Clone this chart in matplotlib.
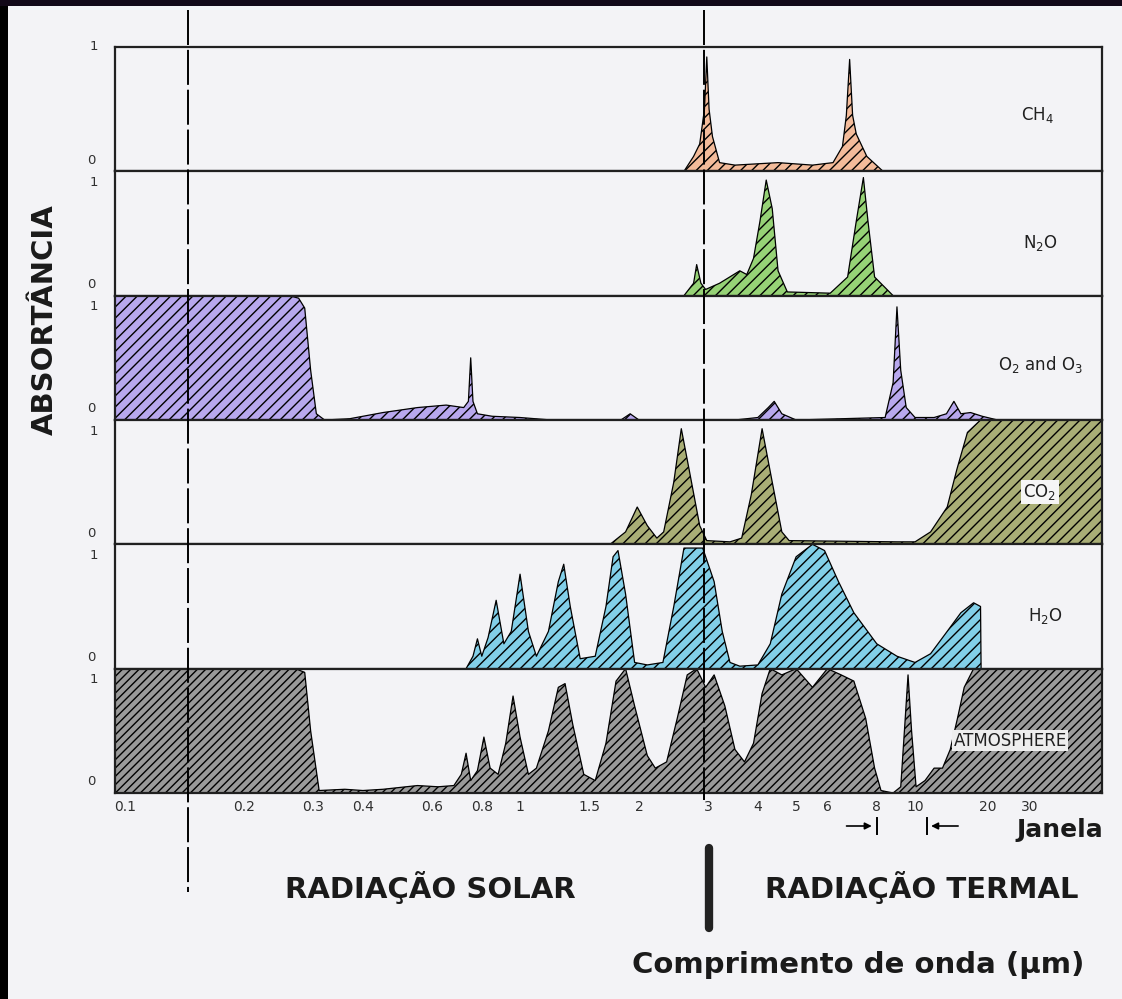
import numpy as np
import matplotlib
matplotlib.use("Agg")
import matplotlib.pyplot as plt
from matplotlib.lines import Line2D
from matplotlib.patches import Rectangle
import matplotlib.transforms as mtransforms

plt.rcParams['font.family'] = ['DejaVu Sans']
plt.rcParams['hatch.linewidth'] = 1.0

# ---------------- data (wavelength in micrometres, absorptance 0..1) -------------
ch4_lam = [2.6, 2.75, 2.85, 2.93, 2.97, 3.01, 3.07, 3.2, 3.5, 4.5, 5.5, 6.2, 6.55, 6.7, 6.83, 6.95, 7.1, 7.55, 8.3]
ch4_val = [0, 0.12, 0.22, 0.5, 0.92, 0.5, 0.28, 0.07, 0.05, 0.07, 0.05, 0.07, 0.2, 0.45, 0.9, 0.45, 0.3, 0.12, 0]

n2o_lam = [2.6, 2.75, 2.8, 2.87, 2.95, 3.2, 3.6, 3.75, 3.9, 4.05, 4.2, 4.35, 4.5, 4.75, 6.1, 6.75, 7.1, 7.4, 7.6, 7.9, 8.8]
n2o_val = [0, 0.1, 0.25, 0.1, 0.05, 0.1, 0.2, 0.17, 0.3, 0.6, 0.93, 0.7, 0.2, 0.03, 0.02, 0.15, 0.6, 0.95, 0.6, 0.15, 0]

o3_lam = [0.094, 0.26, 0.275, 0.285, 0.295, 0.305, 0.32, 0.37, 0.45, 0.55, 0.65, 0.72, 0.74, 0.75, 0.76, 0.78, 0.85, 1.0, 1.2,
          1.8, 1.9, 2.0, 3.5, 4.0, 4.25, 4.4, 4.6, 5.0, 8.4, 8.8, 9.0, 9.2, 9.5, 10.0, 12, 13.5, 14.5, 15.5, 17, 19, 22]
o3_val = [1, 1, 0.98, 0.9, 0.4, 0.05, 0.0, 0.01, 0.06, 0.1, 0.12, 0.1, 0.15, 0.5, 0.15, 0.05, 0.03, 0.02, 0.0,
          0.0, 0.05, 0.0, 0.0, 0.02, 0.1, 0.15, 0.05, 0.0, 0.02, 0.3, 0.91, 0.4, 0.1, 0.02, 0.02, 0.05, 0.15, 0.05, 0.06, 0.03, 0]

co2_lam = [1.69, 1.85, 1.98, 2.1, 2.22, 2.31, 2.45, 2.56, 2.68, 2.85, 2.97, 3.4, 3.64, 3.85, 4.1, 4.35, 4.6, 4.8, 9.0, 10.0,
           11.6, 13.6, 14.9, 16.5, 18.7, 60]
co2_val = [0, 0.1, 0.3, 0.15, 0.05, 0.1, 0.5, 0.93, 0.6, 0.15, 0.03, 0.02, 0.05, 0.4, 0.93, 0.5, 0.1, 0.03, 0.02, 0.02,
           0.1, 0.3, 0.6, 0.9, 1.0, 1.0]

h2o_lam = [0.73, 0.76, 0.78, 0.8, 0.83, 0.87, 0.91, 0.95, 1.0, 1.05, 1.1, 1.18, 1.25, 1.29, 1.34, 1.42, 1.55, 1.65, 1.72,
           1.77, 1.85, 1.95, 2.1, 2.3, 2.45, 2.6, 2.9, 3.1, 3.25, 3.4, 3.6, 4.0, 4.3, 4.6, 5.0, 5.5, 5.9, 6.4, 7.0, 8.0, 9.0,
           10.0, 11.6, 13.6, 15.5, 17.5, 18.7, 18.8]
h2o_val = [0, 0.1, 0.24, 0.1, 0.25, 0.55, 0.2, 0.3, 0.76, 0.3, 0.1, 0.3, 0.7, 0.84, 0.5, 0.08, 0.1, 0.5, 0.9,
           0.95, 0.6, 0.05, 0.03, 0.05, 0.5, 0.97, 0.97, 0.7, 0.3, 0.05, 0.02, 0.03, 0.2, 0.6, 0.9, 1.0, 0.95, 0.7, 0.45, 0.2, 0.1,
           0.05, 0.12, 0.3, 0.45, 0.53, 0.5, 0]

atm_lam = [0.094, 0.27, 0.285, 0.295, 0.31, 0.36, 0.4, 0.45, 0.55, 0.62, 0.68, 0.71, 0.73, 0.75, 0.78, 0.81, 0.84, 0.88,
           0.92, 0.96, 1.0, 1.05, 1.1, 1.18, 1.25, 1.3, 1.36, 1.45, 1.55, 1.65, 1.75, 1.85, 1.95, 2.1, 2.2, 2.35, 2.5,
           2.65, 2.8, 2.95, 3.1, 3.3, 3.5, 3.7, 3.9, 4.1, 4.3, 4.6, 5.0, 5.5, 6.0, 6.5, 7.0, 7.5, 7.9, 8.2, 8.8, 9.2,
           9.4, 9.6, 9.8, 10.1, 11.0, 12.0, 13.0, 14.0, 15.0, 16.0, 17.5, 60]
atm_val = [1, 1, 0.97, 0.5, 0.02, 0.03, 0.02, 0.03, 0.06, 0.05, 0.06, 0.15, 0.32, 0.1, 0.18, 0.45, 0.2, 0.15,
           0.4, 0.78, 0.45, 0.15, 0.2, 0.5, 0.85, 0.88, 0.55, 0.15, 0.1, 0.4, 0.9, 1.0, 0.7, 0.3, 0.2, 0.25, 0.6,
           0.95, 1.0, 0.85, 0.95, 0.7, 0.35, 0.25, 0.4, 0.8, 1.0, 0.95, 1.0, 0.85, 1.0, 0.95, 0.9, 0.6, 0.2, 0.02, 0.0, 0.05,
           0.5, 0.95, 0.5, 0.05, 0.1, 0.2, 0.2, 0.35, 0.6, 0.85, 1.0, 1.0]

panel_names = ['CH$_4$', 'N$_2$O', 'O$_2$ and O$_3$', 'CO$_2$', 'H$_2$O', 'ATMOSPHERE']
panel_colors = ['#f3bb9a', '#96d276', '#b8a8ee', '#a9ae76', '#82cfe8', '#9a9a9a']
panel_lams = [ch4_lam, n2o_lam, o3_lam, co2_lam, h2o_lam, atm_lam]
panel_vals = [ch4_val, n2o_val, o3_val, co2_val, h2o_val, atm_val]

tick_vals = [0.1, 0.2, 0.3, 0.4, 0.6, 0.8, 1, 1.5, 2, 3, 4, 5, 6, 8, 10, 20, 30]
tick_labels = ['0.1', '0.2', '0.3', '0.4', '0.6', '0.8', '1', '1.5', '2', '3', '4', '5', '6', '8', '10', '20', '30']

# ---------------- x scale: log, compressed beyond 10 um -------------------------
K = 0.61
def fwd(x):
    x = np.clip(np.asarray(x, dtype=float), 1e-6, None)
    u = np.log10(x)
    return np.where(u <= 1, u, 1 + K * (u - 1))

def inv(u):
    u = np.asarray(u, dtype=float)
    return np.where(u <= 1, 10 ** u, 10 ** (1 + (u - 1) / K))

BG = '#f3f3f6'
fig = plt.figure(figsize=(11.22, 9.99), dpi=100, facecolor=BG)

left, right = 115 / 1122, 1102 / 1122
top_px, bot_px = 47, 793
ph = (bot_px - top_px) / 6
axes = []
for i in range(6):
    y0 = 1 - (top_px + (i + 1) * ph) / 999
    ax = fig.add_axes([left, y0, right - left, ph / 999])
    ax.set_facecolor(BG)
    ax.set_xscale('function', functions=(fwd, inv))
    ax.set_xlim(0.0943, 59.7)
    ax.set_ylim(0, 1.0)
    ax.fill_between(panel_lams[i], panel_vals[i], 0, facecolor=panel_colors[i], edgecolor='black',
                    hatch='////' if i == 5 else '///', linewidth=0.9, zorder=2)
    ax.set_yticks([])
    ax.tick_params(axis='x', length=0)
    for s in ax.spines.values():
        s.set_linewidth(1.6)
        s.set_color('#202020')
    if i < 5:
        ax.set_xticks([])
    else:
        ax.set_xticks(tick_vals)
        ax.set_xticklabels(tick_labels, fontsize=10, color='#303030')
        ax.tick_params(axis='x', pad=5)
    ax.xaxis.set_minor_locator(matplotlib.ticker.NullLocator())
    # y labels 0 / 1
    ax.text(-0.021, 1.0 if i == 0 else 0.91, '1', transform=ax.transAxes, ha='center', va='center',
            fontsize=9.5, color='#303030')
    ax.text(-0.024, 0.09, '0', transform=ax.transAxes, ha='center', va='center', fontsize=9.5, color='#303030')
    axes.append(ax)

# panel labels
lab_pos = [(1037, 0.45), (1040, 0.42), (1040, 0.45), (1040, 0.42), (1045, 0.42), (1010, 0.42)]
for i, ax in enumerate(axes):
    xp, yp = lab_pos[i]
    kw = dict(transform=mtransforms.blended_transform_factory(fig.transFigure, ax.transAxes),
              ha='center', va='center', fontsize=12, color='#202020', zorder=5)
    if i == 3:
        kw['bbox'] = dict(facecolor='#f6f6f6', edgecolor='none', pad=1.5)
    if i == 5:
        kw['bbox'] = dict(facecolor='#eeeeee', edgecolor='none', pad=1.0)
        kw['fontsize'] = 12
    ax.text(xp / 1122, yp, panel_names[i], **kw)

# vertical dashed divider lines (wavelength positions)
bt = mtransforms.blended_transform_factory(axes[5].transData, fig.transFigure)
fig.add_artist(Line2D([0.144, 0.144], [1 - 10 / 999, 1 - 892 / 999], transform=bt, color='black',
                      lw=1.4, dashes=(18, 2.5), zorder=10))
fig.add_artist(Line2D([2.93, 2.93], [1 - 10 / 999, 1 - 800 / 999], transform=bt, color='black',
                      lw=1.4, dashes=(18, 2.5), zorder=10))
fig.add_artist(Line2D([3.0, 3.0], [1 - 848 / 999, 1 - 928 / 999], transform=bt, color='#222222',
                      lw=6, solid_capstyle='round', zorder=10))

# window markers
yj = 1 - 826 / 999
fig.add_artist(Line2D([8.0, 8.0], [yj - 8 / 999, yj + 8 / 999], transform=bt, color='black', lw=1.4))
fig.add_artist(Line2D([11.2, 11.2], [yj - 8 / 999, yj + 8 / 999], transform=bt, color='black', lw=1.4))
axes[5].annotate('', xy=(7.9, yj), xytext=(6.6, yj), xycoords=bt, textcoords=bt,
                 arrowprops=dict(arrowstyle='-|>', color='black', lw=1.2, mutation_scale=10))
axes[5].annotate('', xy=(11.35, yj), xytext=(15.5, yj), xycoords=bt, textcoords=bt,
                 arrowprops=dict(arrowstyle='-|>', color='black', lw=1.2, mutation_scale=10))

# texts
fig.text(1060 / 1122, 1 - 830 / 999, 'Janela', ha='center', va='center', fontsize=18, fontweight='bold',
         color='#1a1a1a')
fig.text(430 / 1122, 1 - 888 / 999, 'RADIAÇÃO SOLAR', ha='center', va='center', fontsize=21,
         fontweight='bold', color='#1a1a1a')
fig.text(922 / 1122, 1 - 888 / 999, 'RADIAÇÃO TERMAL', ha='center', va='center', fontsize=21,
         fontweight='bold', color='#1a1a1a')
fig.text(858 / 1122, 1 - 965 / 999, 'Comprimento de onda (μm)', ha='center', va='center', fontsize=21,
         fontweight='bold', color='#1a1a1a')
fig.text(45 / 1122, 1 - 320 / 999, 'ABSORTÂNCIA', ha='center', va='center', rotation=90, fontsize=21,
         fontweight='bold', color='#1a1a1a')

# dark scan border
fig.add_artist(Rectangle((0, 0), 8 / 1122, 1, transform=fig.transFigure, facecolor='black', edgecolor='none'))
fig.add_artist(Rectangle((0, 1 - 6 / 999), 1, 6 / 999, transform=fig.transFigure, facecolor='#120818',
                         edgecolor='none'))

fig.savefig('out.png', dpi=100, facecolor=BG)
